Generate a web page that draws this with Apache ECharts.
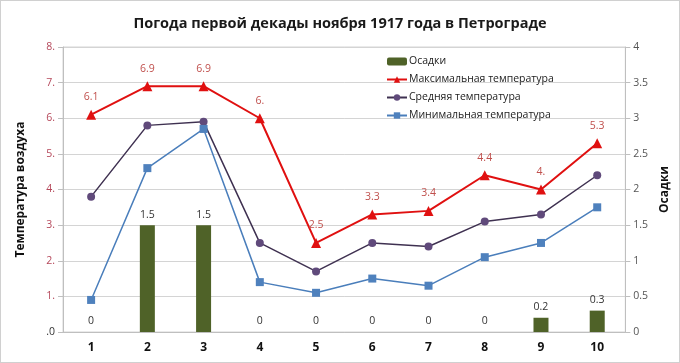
<!DOCTYPE html>
<html><head><meta charset="utf-8">
<script src="https://cdn.jsdelivr.net/npm/echarts@6/dist/echarts.min.js"></script>
<style>html,body{margin:0;padding:0;background:#fff}#c{width:680px;height:363px;box-sizing:border-box;border:1px solid #d0d0d0}</style>
</head><body><div id="c"></div>
<script>
var days = ['1','2','3','4','5','6','7','8','9','10'];
var precip = [0, 1.5, 1.5, 0, 0, 0, 0, 0, 0.2, 0.3];
var tMax = [6.1, 6.9, 6.9, 6.0, 2.5, 3.3, 3.4, 4.4, 4.0, 5.3];
var tAvg = [3.8, 5.8, 5.9, 2.5, 1.7, 2.5, 2.4, 3.1, 3.3, 4.4];
var tMin = [0.9, 4.6, 5.7, 1.4, 1.1, 1.5, 1.3, 2.1, 2.5, 3.5];
var leftTicks = [0, 8, 1];
var rightTicks = [0, 4, 0.5];

var FONT = 'Open Sans';
function dotFmt(v){ if (v === 0) return '.0'; return (Math.round(v*10)%10===0) ? (Math.round(v) + '.') : String(v); }

var chart = echarts.init(document.getElementById('c'));
chart.setOption({
  animation: false,
  textStyle: {fontFamily: FONT},
  title: {
    text: 'Погода первой декады ноября 1917 года в Петрограде',
    left: 'center', top: 10,
    textStyle: {fontSize: 14.5, fontWeight: 'bold', color: '#1a1a1a', fontFamily: FONT}
  },
  legend: {
    orient: 'vertical', left: 380, top: 50, itemGap: 7,
    itemWidth: 20, itemHeight: 8,
    textStyle: {fontSize: 10.5, color: '#222', fontFamily: FONT, padding: [0,0,0,-3]},
    data: ['Осадки', 'Максимальная температура', 'Средняя температура', 'Минимальная температура']
  },
  grid: {left: 62, right: 51, top: 46, bottom: 30, show: true, borderColor: '#d4d4d4', borderWidth: 1},
  xAxis: {
    type: 'category', data: days, boundaryGap: true,
    axisLine: {lineStyle: {color: '#bfbfbf'}},
    axisTick: {show: false},
    axisLabel: {fontSize: 12, fontWeight: 'bold', color: '#111', margin: 10}
  },
  yAxis: [{
    type: 'value', min: leftTicks[0], max: leftTicks[1], interval: leftTicks[2],
    name: 'Температура воздуха', nameLocation: 'middle', nameGap: 36, nameRotate: 90,
    nameTextStyle: {fontSize: 12, fontWeight: 'bold', color: '#111', fontFamily: FONT},
    axisLine: {show: true, lineStyle: {color: '#bfbfbf'}},
    axisTick: {show: true, length: 5, lineStyle: {color: '#bfbfbf'}},
    splitLine: {lineStyle: {color: '#d4d4d4'}},
    axisLabel: {fontSize: 10.5, margin: 8,
      formatter: function(v){ return v === 0 ? '{z|.0}' : '{r|' + dotFmt(v) + '}'; },
      rich: {r: {color: '#b5475a', fontSize: 10.5, fontFamily: FONT}, z: {color: '#333', fontSize: 10.5, fontFamily: FONT}}
    }
  }, {
    type: 'value', min: rightTicks[0], max: rightTicks[1], interval: rightTicks[2],
    name: 'Осадки', nameLocation: 'middle', nameGap: 32, nameRotate: 90,
    nameTextStyle: {fontSize: 12, fontWeight: 'bold', color: '#111', fontFamily: FONT},
    axisLine: {show: true, lineStyle: {color: '#bfbfbf'}},
    axisTick: {show: true, length: 5, lineStyle: {color: '#bfbfbf'}},
    splitLine: {show: false},
    axisLabel: {fontSize: 10.5, color: '#555', margin: 8}
  }],
  series: [{
    name: 'Осадки', type: 'bar', yAxisIndex: 1, data: precip, barWidth: 15,
    itemStyle: {color: '#4f6228'},
    label: {show: true, position: 'top', distance: 5, fontSize: 10.5, color: '#333', fontFamily: FONT}
  }, {
    name: 'Максимальная температура', type: 'line', data: tMax,
    symbol: 'triangle', symbolSize: 10,
    lineStyle: {color: '#e01010', width: 2}, itemStyle: {color: '#e01010'},
    label: {show: true, position: 'top', distance: 7, fontSize: 10.5, color: '#c0504d', fontFamily: FONT,
      formatter: function(p){ return dotFmt(p.value); }}
  }, {
    name: 'Средняя температура', type: 'line', data: tAvg,
    symbol: 'circle', symbolSize: 8,
    lineStyle: {color: '#3f3151', width: 1.5}, itemStyle: {color: '#604a7b'}
  }, {
    name: 'Минимальная температура', type: 'line', data: tMin,
    symbol: 'rect', symbolSize: 8,
    lineStyle: {color: '#4a7ebb', width: 1.5}, itemStyle: {color: '#4f81bd'}
  }]
});
</script></body></html>
